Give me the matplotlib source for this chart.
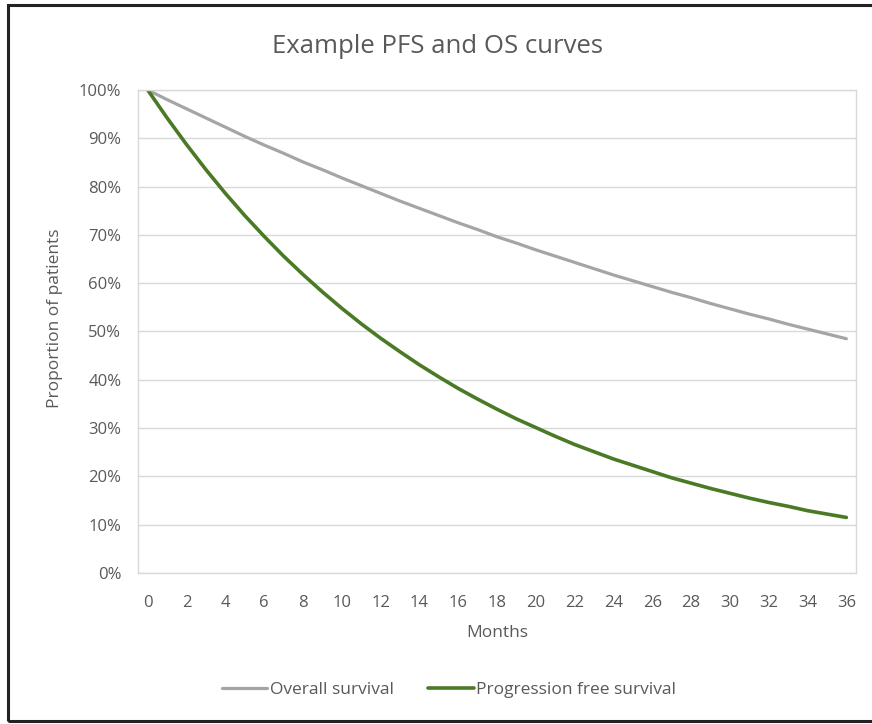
import matplotlib.pyplot as plt
from matplotlib.patches import Rectangle
from matplotlib.ticker import PercentFormatter, MultipleLocator

# Monthly survival estimates (% of patients still in each state)
months = list(range(0, 37))
overall_survival = [
    100.0, 98.0, 96.1, 94.2, 92.3, 90.4, 88.6, 86.9, 85.1, 83.5,
    81.8, 80.2, 78.6, 77.0, 75.5, 74.0, 72.5, 71.1, 69.6, 68.3,
    66.9, 65.6, 64.3, 63.0, 61.7, 60.5, 59.3, 58.1, 57.0, 55.8,
    54.7, 53.6, 52.6, 51.5, 50.5, 49.5, 48.5,
]
progression_free = [
    100.0, 94.2, 88.7, 83.5, 78.6, 74.0, 69.7, 65.6, 61.8, 58.2,
    54.8, 51.6, 48.6, 45.8, 43.1, 40.6, 38.2, 36.0, 33.9, 31.9,
    30.1, 28.3, 26.6, 25.1, 23.6, 22.3, 21.0, 19.7, 18.6, 17.5,
    16.5, 15.5, 14.6, 13.8, 12.9, 12.2, 11.5,
]
series_labels = ["Overall survival", "Progression free survival"]

TEXT = "#595959"
GRID = "#d9d9d9"
plt.rcParams["font.family"] = ["Open Sans", "DejaVu Sans"]

fig = plt.figure(figsize=(8.72, 7.24), dpi=100)
ax = fig.add_axes([0.1583, 0.2086, 0.8234, 0.6671])

ax.plot(months, overall_survival, color="#a5a5a5", lw=2.3,
        solid_capstyle="round", label=series_labels[0])
ax.plot(months, progression_free, color="#4b7a26", lw=2.6,
        solid_capstyle="round", label=series_labels[1])

ax.set_xlim(-0.5, 36.5)
ax.set_ylim(0, 100)
ax.xaxis.set_major_locator(MultipleLocator(2))
ax.yaxis.set_major_locator(MultipleLocator(10))
ax.yaxis.set_major_formatter(PercentFormatter(decimals=0))
ax.tick_params(length=0, colors=TEXT, labelsize=12)
ax.tick_params(axis="x", pad=16)
ax.tick_params(axis="y", pad=12)
ax.grid(axis="y", color=GRID, lw=1)
ax.set_axisbelow(True)
for s in ax.spines.values():
    s.set_color(GRID)
    s.set_linewidth(1)

ax.set_xlabel("Months", color=TEXT, fontsize=12.5, labelpad=10)
ax.set_ylabel("Proportion of patients", color=TEXT, fontsize=12.5)
ax.yaxis.set_label_coords(-0.105, 0.528)

fig.text(0.502, 0.936, "Example PFS and OS curves", ha="center", va="center",
         color=TEXT, fontsize=18.5)

fig.legend(loc="center", bbox_to_anchor=(0.515, 0.047), ncol=2, frameon=False,
           fontsize=12.5, labelcolor=TEXT, handlelength=2.6, handletextpad=0.15,
           columnspacing=2.0)

# document frame around the chart
fig.add_artist(Rectangle((8 / 872, 3 / 724), 1.2, 716 / 724,
                         transform=fig.transFigure, fill=False,
                         edgecolor="#222222", lw=2.2, clip_on=False))

fig.savefig("out.png", dpi=100)
